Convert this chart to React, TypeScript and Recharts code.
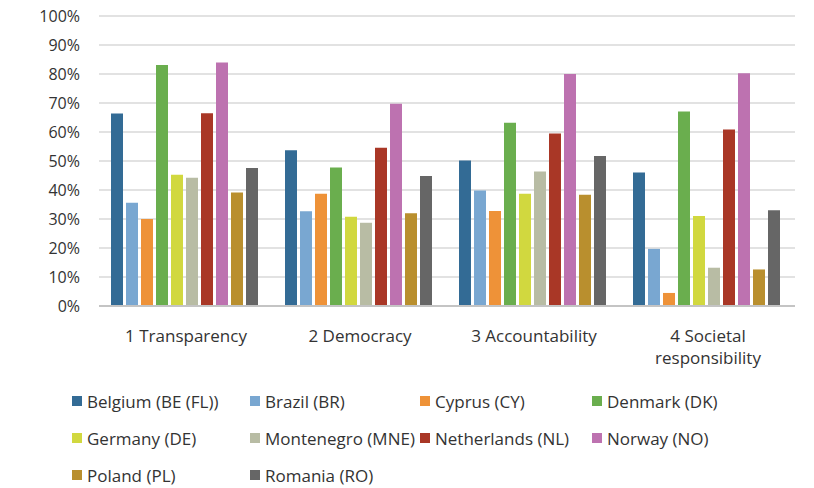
import { Bar, BarChart, CartesianGrid, Text, XAxis, YAxis } from 'recharts';

const categories = ['1 Transparency', '2 Democracy', '3 Accountability', '4 Societal responsibility'];

const countries = [
  'Belgium (BE (FL))',
  'Brazil (BR)',
  'Cyprus (CY)',
  'Denmark (DK)',
  'Germany (DE)',
  'Montenegro (MNE)',
  'Netherlands (NL)',
  'Norway (NO)',
  'Poland (PL)',
  'Romania (RO)',
];

const colors = ['#336b95', '#79a7d1', '#ee9238', '#6aae4e', '#d1d83f', '#b8bca4', '#a93726', '#bd72b0', '#b98f2e', '#666666'];

// share per category, one array per country
const belgium = [0.664, 0.537, 0.502, 0.46];
const brazil = [0.356, 0.327, 0.398, 0.197];
const cyprus = [0.3, 0.387, 0.328, 0.045];
const denmark = [0.831, 0.478, 0.632, 0.671];
const germany = [0.453, 0.308, 0.387, 0.31];
const montenegro = [0.442, 0.287, 0.464, 0.132];
const netherlands = [0.665, 0.546, 0.595, 0.609];
const norway = [0.84, 0.697, 0.8, 0.803];
const poland = [0.391, 0.32, 0.384, 0.126];
const romania = [0.476, 0.448, 0.517, 0.33];

const seriesValues = [belgium, brazil, cyprus, denmark, germany, montenegro, netherlands, norway, poland, romania];

const yTicks = [0, 0.1, 0.2, 0.3, 0.4, 0.5, 0.6, 0.7, 0.8, 0.9, 1];

const FONT = '"Open Sans", sans-serif';
const TEXT = '#333333';

const data = categories.map((name, i) => {
  const row: Record<string, string | number> = { name };
  countries.forEach((c, k) => {
    row[c] = seriesValues[k][i];
  });
  return row;
});

function CategoryTick({ x, y, payload }: any) {
  return (
    <Text
      x={x}
      y={y + 22}
      width={160}
      textAnchor="middle"
      verticalAnchor="start"
      lineHeight={22}
      fontSize={17}
      fontFamily={FONT}
      fill={TEXT}
      style={{ fontSize: 17, fontFamily: FONT }}
    >
      {payload.value}
    </Text>
  );
}

const legendCols = [72, 250, 420, 592];
const legendRows = [401, 438, 475];

export default function App() {
  return (
    <div style={{ position: 'absolute', left: 0, top: 0, width: 814, height: 488, background: '#fff' }}>
      <BarChart
        width={814}
        height={488}
        data={data}
        margin={{ top: 16, right: 19, bottom: 122, left: 0 }}
        barCategoryGap={12}
        barGap={3}
      >
        <CartesianGrid vertical={false} stroke="#d9d9d9" strokeWidth={1.3} />
        <XAxis
          dataKey="name"
          height={60}
          tickLine={false}
          tickSize={0}
          axisLine={{ stroke: '#c4c4c4', strokeWidth: 2 }}
          tick={<CategoryTick />}
          interval={0}
        />
        <YAxis
          width={99}
          domain={[0, 1]}
          ticks={yTicks}
          axisLine={false}
          tickLine={false}
          tickSize={0}
          tickMargin={19}
          tickFormatter={(v: number) => `${Math.round(v * 100)}%`}
          tick={{ fontSize: 16, fontFamily: FONT, fill: TEXT }}
        />
        {countries.map((c, k) => (
          <Bar key={c} dataKey={c} fill={colors[k]} isAnimationActive={false} />
        ))}
      </BarChart>
      {countries.map((c, k) => {
        const col = k % 4;
        const row = Math.floor(k / 4);
        return (
          <div
            key={c}
            style={{
              position: 'absolute',
              left: legendCols[col],
              top: legendRows[row] - 12,
              height: 24,
              display: 'flex',
              alignItems: 'center',
              fontFamily: FONT,
              fontSize: 17,
              color: TEXT,
              whiteSpace: 'nowrap',
            }}
          >
            <span style={{ width: 10, height: 10, background: colors[k], marginRight: 5, display: 'inline-block' }} />
            {c}
          </div>
        );
      })}
    </div>
  );
}
